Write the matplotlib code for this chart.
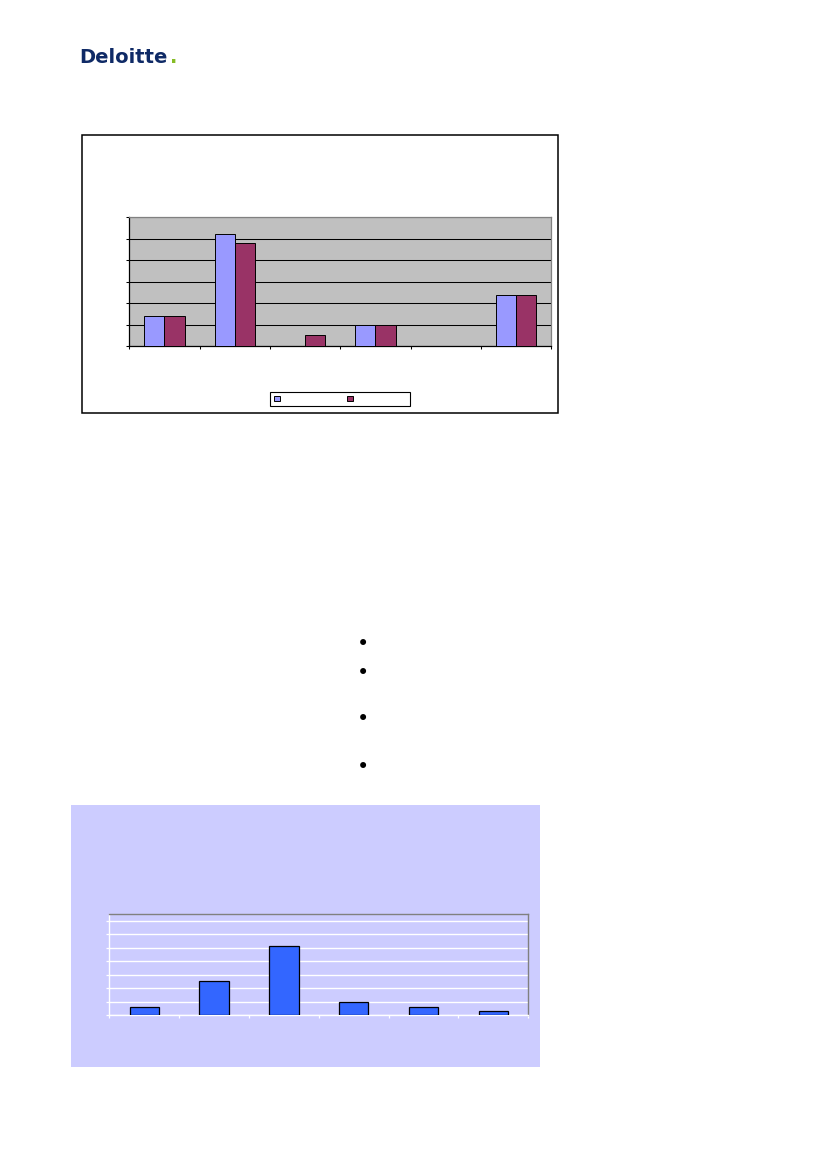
import numpy as np
import matplotlib
matplotlib.use('Agg')
import matplotlib.pyplot as plt
from matplotlib.patches import Rectangle

# page is 827 x 1169 px
W, H = 827, 1169

series_a = [14, 52, 0, 10, 0, 24]
series_b = [14, 48, 5, 10, 0, 24]
yticks_1 = [0, 10, 20, 30, 40, 50, 60]

# chart 2 (single series, lavender background)
series_c = [6, 25, 51, 10, 6, 3]
yticks_2 = [0, 10, 20, 30, 40, 50, 60, 70]

bullet_rows = [643, 671, 718, 765]


def fx(px):
    return px / W


def fy(py):
    return 1 - py / H


def box(x0, y0, x1, y1):
    # pixel box -> figure fraction [left, bottom, width, height]
    return [fx(x0), fy(y1), (x1 - x0) / W, (y1 - y0) / H]


fig = plt.figure(figsize=(W / 100, H / 100), dpi=100)
fig.patch.set_facecolor('white')

# Logo
fig.text(fx(79), fy(63), 'Deloitte', fontsize=14, fontweight='bold',
         color='#0F2A66', ha='left', va='baseline', family='DejaVu Sans')
fig.text(fx(170), fy(63), '.', fontsize=14, fontweight='bold',
         color='#86BC25', ha='left', va='baseline', family='DejaVu Sans')

# ---- chart 1 ----
fig.patches.append(Rectangle((fx(82.3), fy(413)), (558.3 - 82.3) / W, (413 - 135.3) / H,
                             transform=fig.transFigure, facecolor='white',
                             edgecolor='black', linewidth=1.1, zorder=-1))

ax1 = fig.add_axes(box(129.3, 217.3, 551.3, 346))
ax1.set_zorder(1)
ax1.set_facecolor('#C0C0C0')
x = np.arange(len(series_a))
w = 1 / 3.5
ba = ax1.bar(x - w / 2, series_a, w, color='#9999FF', edgecolor='black', linewidth=0.7, zorder=3)
bb = ax1.bar(x + w / 2, series_b, w, color='#993366', edgecolor='black', linewidth=0.7, zorder=3)
ax1.set_xlim(-0.5, len(x) - 0.5)
ax1.set_ylim(yticks_1[0], yticks_1[-1])
ax1.set_yticks(yticks_1)
ax1.set_xticks(np.arange(len(x) + 1) - 0.5)
ax1.yaxis.grid(True, color='black', linewidth=0.75)
ax1.set_axisbelow(True)
ax1.tick_params(length=2.5, width=0.75, color='black', labelleft=False, labelbottom=False)
for s in ['left', 'bottom']:
    ax1.spines[s].set_color('black')
    ax1.spines[s].set_linewidth(0.9)
for s in ['top', 'right']:
    ax1.spines[s].set_color('#808080')
    ax1.spines[s].set_linewidth(0.9)

leg = ax1.legend([ba, bb], ['', ''], ncol=2, loc='upper left',
                 bbox_to_anchor=(fx(270), fy(391.7)), bbox_transform=fig.transFigure,
                 borderaxespad=0, fontsize=4, borderpad=0.75, handlelength=1.05,
                 handleheight=1.05, handletextpad=9.6, columnspacing=2.4,
                 fancybox=False, framealpha=1, edgecolor='black')
leg.get_frame().set_linewidth(0.8)

# ---- bullets ----
for yy in bullet_rows:
    fig.text(fx(363.3), fy(yy + 1.5), '\u2022', fontsize=15, ha='center', va='center', color='black')

# ---- chart 2 ----
fig.patches.append(Rectangle((fx(71), fy(1066.7)), (540 - 71) / W, (1066.7 - 805) / H,
                             transform=fig.transFigure, facecolor='#CCCCFF',
                             edgecolor='none', zorder=-1))

ax2 = fig.add_axes(box(109.3, 914, 528.3, 1015))
ax2.set_zorder(1)
ax2.set_facecolor('#CCCCFF')
x2 = np.arange(len(series_c))
ax2.bar(x2, series_c, 0.42, color='#3366FF', edgecolor='black', linewidth=0.9, zorder=3)
ax2.set_xlim(-0.5, len(x2) - 0.5)
ax2.set_ylim(0, 75)
ax2.set_yticks(yticks_2)
ax2.set_xticks(np.arange(len(x2) + 1) - 0.5)
ax2.yaxis.grid(True, color='white', linewidth=1.0)
ax2.set_axisbelow(True)
ax2.tick_params(length=2.5, width=0.9, color='white', labelleft=False, labelbottom=False)
for s in ['left', 'bottom']:
    ax2.spines[s].set_color('white')
    ax2.spines[s].set_linewidth(1.0)
for s in ['top', 'right']:
    ax2.spines[s].set_color('#808080')
    ax2.spines[s].set_linewidth(1.0)

fig.savefig('out.png', dpi=100, facecolor='white')
